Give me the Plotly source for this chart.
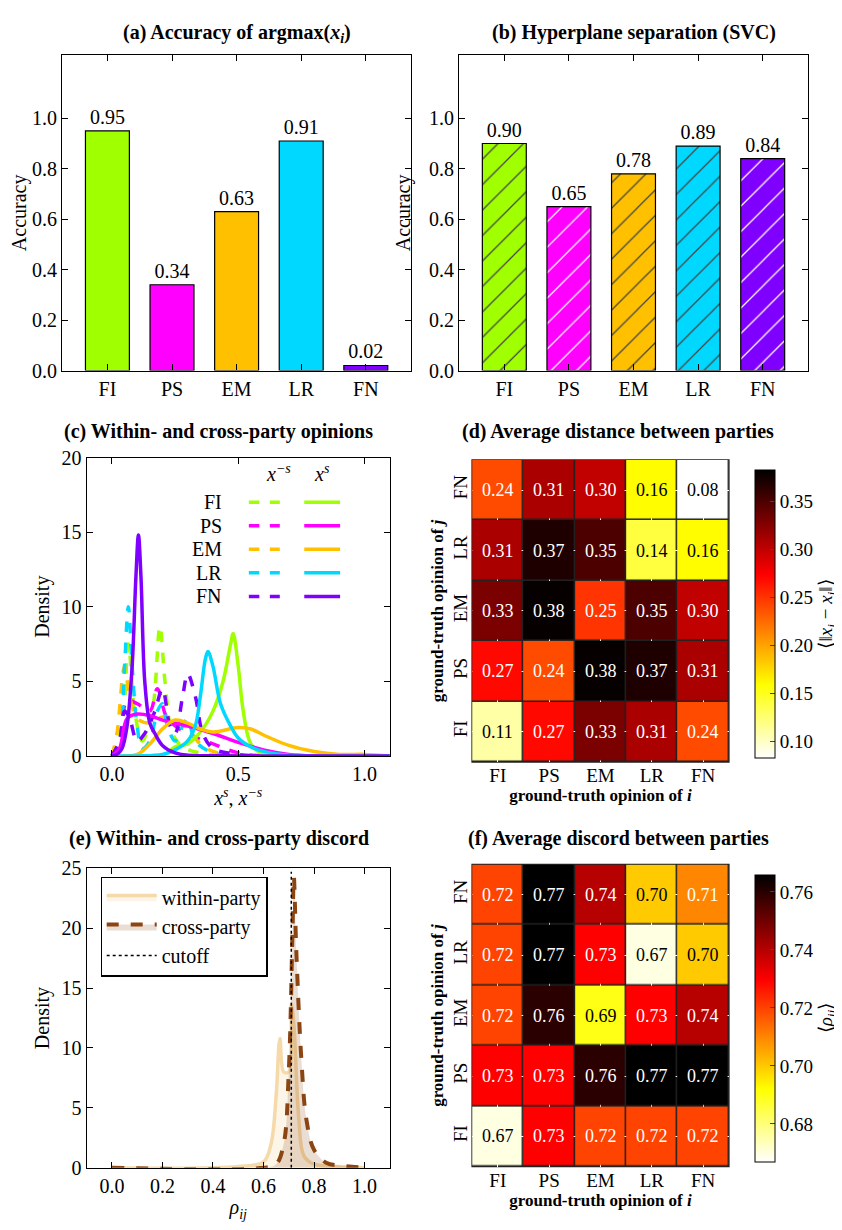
import plotly.graph_objects as go

parties = ['FI', 'PS', 'EM', 'LR', 'FN']
colors = ['#A0FF00', '#FF00FF', '#FFC000', '#00D8FF', '#8000FF']

acc_argmax = [0.95, 0.34, 0.63, 0.91, 0.02]
acc_svc = [0.90, 0.65, 0.78, 0.89, 0.84]

# density curves (x, y); "self" = x^s, "other" = x^-s
self_x = {
    'FI': [0, 0.2, 0.25, 0.3, 0.35, 0.4, 0.44, 0.47, 0.48, 0.5, 0.52, 0.55, 0.6, 0.7, 1.1],
    'PS': [0, 0.03, 0.06, 0.1, 0.15, 0.2, 0.3, 0.4, 0.5, 0.6, 0.7, 0.8, 1.1],
    'EM': [0, 0.1, 0.15, 0.2, 0.25, 0.3, 0.35, 0.4, 0.5, 0.55, 0.6, 0.7, 0.8, 0.9, 1.0, 1.1],
    'LR': [0, 0.1, 0.2, 0.25, 0.3, 0.33, 0.35, 0.37, 0.38, 0.4, 0.43, 0.47, 0.5, 0.55, 0.6, 0.7, 1.1],
    'FN': [0, 0.02, 0.04, 0.06, 0.08, 0.095, 0.105, 0.115, 0.13, 0.15, 0.17, 0.2, 0.25, 0.3, 0.5, 1.1],
}
self_y = {
    'FI': [0, 0, 0.6, 0.8, 1.6, 3, 5, 7.5, 8.2, 6, 3, 0.8, 0.1, 0, 0],
    'PS': [0, 0.5, 2.5, 2.8, 2.7, 2.4, 2, 1.5, 0.9, 0.4, 0.1, 0, 0],
    'EM': [0, 0.1, 0.8, 1.8, 2.4, 2.2, 1.8, 1.6, 1.9, 1.8, 1.4, 0.7, 0.3, 0.1, 0.1, 0],
    'LR': [0, 0, 0.1, 0.4, 1, 2, 4, 6.5, 7, 6, 3.5, 2, 1.2, 0.6, 0.3, 0.05, 0],
    'FN': [0, 0.1, 0.5, 2, 6, 12, 14.8, 12, 5, 2.2, 1.5, 0.7, 0.2, 0.05, 0, 0],
}
other_x = {
    'FI': [0, 0.04, 0.065, 0.09, 0.12, 0.16, 0.19, 0.21, 0.24, 0.28, 0.35, 0.45, 1.1],
    'PS': [0, 0.03, 0.06, 0.1, 0.15, 0.18, 0.22, 0.3, 0.4, 0.5, 0.6, 1.1],
    'EM': [0, 0.02, 0.05, 0.07, 0.1, 0.15, 0.2, 0.25, 0.3, 0.35, 0.4, 0.5, 1.1],
    'LR': [0, 0.03, 0.05, 0.065, 0.08, 0.1, 0.12, 0.15, 0.18, 0.2, 0.22, 0.25, 0.28, 0.3, 0.33, 0.4, 0.5, 1.1],
    'FN': [0, 0.03, 0.05, 0.07, 0.1, 0.13, 0.17, 0.2, 0.23, 0.25, 0.28, 0.3, 0.33, 0.36, 0.4, 0.5, 0.6, 1.1],
}
other_y = {
    'FI': [0, 2, 7.5, 3, 1, 3, 8.7, 5, 1.5, 0.6, 0.2, 0, 0],
    'PS': [0, 1, 3.7, 3.5, 3, 4.5, 2.5, 1.5, 0.8, 0.2, 0, 0],
    'EM': [0, 1.5, 6, 4, 2.5, 2.2, 2.6, 2.5, 1.8, 0.8, 0.3, 0, 0],
    'LR': [0, 1, 6, 10, 6, 2, 0.5, 1, 3, 3.5, 2, 1, 2, 2.5, 1, 0.2, 0, 0],
    'FN': [0, 1, 3, 2.5, 1, 1.5, 3, 4.5, 2, 1.5, 4, 5.5, 4, 1.5, 0.5, 0.1, 0, 0],
}

within_x = [0, 0.5, 0.6, 0.63, 0.65, 0.665, 0.68, 0.7, 0.71, 0.72, 0.74, 0.76, 0.8, 0.9, 1.0]
within_y = [0, 0.1, 0.5, 2, 6, 10.8, 8, 8, 13.7, 12, 4, 1, 0.3, 0.1, 0]
cross_x = [0, 0.6, 0.65, 0.68, 0.7, 0.715, 0.72, 0.73, 0.75, 0.77, 0.8, 0.85, 0.9, 1.0]
cross_y = [0, 0, 0.3, 2, 8, 20, 24.3, 18, 9, 4, 1.5, 0.4, 0.2, 0]
cutoff = 0.71

# rows bottom->top: FI, PS, EM, LR, FN (opinion of j); columns: opinion of i
dist = [
    [0.11, 0.27, 0.33, 0.31, 0.24],
    [0.27, 0.24, 0.38, 0.37, 0.31],
    [0.33, 0.38, 0.25, 0.35, 0.30],
    [0.31, 0.37, 0.35, 0.14, 0.16],
    [0.24, 0.31, 0.30, 0.16, 0.08],
]
discord = [
    [0.67, 0.73, 0.72, 0.72, 0.72],
    [0.73, 0.73, 0.76, 0.77, 0.77],
    [0.72, 0.76, 0.69, 0.73, 0.74],
    [0.72, 0.77, 0.73, 0.67, 0.70],
    [0.72, 0.77, 0.74, 0.70, 0.71],
]

FONT = 'Liberation Serif'
hot_r = [[0, '#ffffff'], [0.254, '#ffff00'], [0.635, '#ff0000'], [1, '#000000']]

fig = go.Figure()

# (a), (b) bars
fig.add_trace(go.Bar(x=parties, y=acc_argmax, marker=dict(color=colors, line=dict(color='black', width=1.2)),
                     text=[f'{v:.2f}' for v in acc_argmax], textposition='outside', width=0.68,
                     textfont=dict(size=20, color='black'), cliponaxis=False, xaxis='x', yaxis='y', showlegend=False))
fig.add_trace(go.Bar(x=parties, y=acc_svc,
                     marker=dict(color=colors, line=dict(color='black', width=1.2),
                                 pattern=dict(shape='/', fgcolor='black', fgopacity=1, size=18, solidity=0.07,
                                              fillmode='overlay')),
                     text=[f'{v:.2f}' for v in acc_svc], textposition='outside', width=0.68,
                     textfont=dict(size=20, color='black'), cliponaxis=False, xaxis='x2', yaxis='y2', showlegend=False))

# (c) densities
for p, c in zip(parties, colors):
    fig.add_trace(go.Scatter(x=other_x[p], y=other_y[p], mode='lines', line=dict(color=c, width=3.5, dash='dash', shape='spline'),
                             xaxis='x3', yaxis='y3', showlegend=False))
for p, c in zip(parties, colors):
    fig.add_trace(go.Scatter(x=self_x[p], y=self_y[p], mode='lines', line=dict(color=c, width=3.5, shape='spline'),
                             xaxis='x3', yaxis='y3', showlegend=False))

# (d) heatmap
fig.add_trace(go.Heatmap(z=dist, x=parties, y=parties, colorscale=hot_r, zmin=0.083, zmax=0.383,
                         xgap=1.5, ygap=1.5, xaxis='x4', yaxis='y4',
                         colorbar=dict(x=0.891, xanchor='left', y=0.635, yanchor='top', len=308, lenmode='pixels',
                                       thickness=20, outlinewidth=1, outlinecolor='black', ticks='inside',
                                       tickvals=[0.10, 0.15, 0.20, 0.25, 0.30, 0.35], ticktext=['0.10', '0.15', '0.20', '0.25', '0.30', '0.35'],
                                       tickfont=dict(size=19, family=FONT),
                                       title=dict(text='⟨‖<i>x<sub>i</sub></i> − <i>x<sub>j</sub></i>‖⟩', side='right',
                                                  font=dict(size=19, family=FONT)))))

# (e) discord densities
fig.add_trace(go.Scatter(x=within_x, y=within_y, mode='lines', name='within-party', fill='tozeroy',
                         fillcolor='rgba(245,222,179,0.3)', line=dict(color='#F5D9A8', width=3.5, shape='spline'),
                         xaxis='x5', yaxis='y5'))
fig.add_trace(go.Scatter(x=cross_x, y=cross_y, mode='lines', name='cross-party', fill='tozeroy',
                         fillcolor='rgba(139,69,19,0.18)', line=dict(color='#8B4513', width=4, dash='dash', shape='spline'),
                         xaxis='x5', yaxis='y5'))
fig.add_trace(go.Scatter(x=[cutoff, cutoff], y=[0, 24.7], mode='lines', name='cutoff',
                         line=dict(color='black', width=1.5, dash='dot'), xaxis='x5', yaxis='y5'))

# (f) heatmap
fig.add_trace(go.Heatmap(z=discord, x=parties, y=parties, colorscale=hot_r, zmin=0.667, zmax=0.766,
                         xgap=1.5, ygap=1.5, xaxis='x6', yaxis='y6',
                         colorbar=dict(x=0.891, xanchor='left', y=0.300, yanchor='top', len=307, lenmode='pixels',
                                       thickness=20, outlinewidth=1, outlinecolor='black', ticks='inside',
                                       tickvals=[0.68, 0.70, 0.72, 0.74, 0.76], ticktext=['0.68', '0.70', '0.72', '0.74', '0.76'],
                                       tickfont=dict(size=19, family=FONT),
                                       title=dict(text='⟨<i>ρ<sub>ij</sub></i>⟩', side='right',
                                                  font=dict(size=19, family=FONT)))))

# dark backdrop so heatmap gaps read as cell borders
for xa in ['x4', 'x6']:
    fig.add_shape(type='rect', xref=xa + ' domain', yref='y' + xa[1:] + ' domain', x0=0, x1=1, y0=0, y1=1,
                  fillcolor='#222222', line=dict(color='#222222', width=1.5), layer='below')

# cell labels
for mat, xa, lo, hi in [(dist, 'x4', 0.083, 0.383), (discord, 'x6', 0.667, 0.766)]:
    ya = 'y' + xa[1:]
    for r, row in enumerate(mat):
        for k, v in enumerate(row):
            t = (v - lo) / (hi - lo)
            fig.add_annotation(x=parties[k], y=parties[r], xref=xa, yref=ya, text=f'{v:.2f}', showarrow=False,
                               font=dict(size=18, family=FONT, color='white' if t > 0.38 else 'black'))

axis_common = dict(showline=True, linecolor='black', linewidth=1.2, mirror='ticks', ticks='inside',
                   ticklen=6, tickcolor='black', tickfont=dict(size=20, family=FONT), showgrid=False, zeroline=False)
hm_axis = dict(ticks='', showline=False, tickfont=dict(size=19, family=FONT))

fig.update_layout(
    width=842, height=1230, margin=dict(l=0, r=0, t=0, b=0),
    plot_bgcolor='white', paper_bgcolor='white', font=dict(family=FONT, color='black'),
    xaxis=dict(domain=[0.053, 0.481], anchor='y', range=[-0.7, 4.7], **axis_common),
    yaxis=dict(domain=[0.709, 0.970], anchor='x', range=[0, 1.25], tickvals=[0, 0.2, 0.4, 0.6, 0.8, 1.0],
               tickformat='.1f', title=dict(text='Accuracy', font=dict(size=20), standoff=10), **axis_common),
    xaxis2=dict(domain=[0.540, 0.968], anchor='y2', range=[-0.7, 4.7], **axis_common),
    yaxis2=dict(domain=[0.709, 0.970], anchor='x2', range=[0, 1.25], tickvals=[0, 0.2, 0.4, 0.6, 0.8, 1.0],
                tickformat='.1f', title=dict(text='Accuracy', font=dict(size=20), standoff=12), **axis_common),
    xaxis3=dict(domain=[0.083, 0.455], anchor='y3', range=[-0.1, 1.1], tickvals=[0, 0.5, 1.0], tickformat='.1f',
                title=dict(text='<i>x<sup>s</sup></i>, <i>x<sup>−s</sup></i>', font=dict(size=20), standoff=4), **axis_common),
    yaxis3=dict(domain=[0.390, 0.637], anchor='x3', range=[0, 20], tickvals=[0, 5, 10, 15, 20],
                title=dict(text='Density', font=dict(size=20), standoff=6), **axis_common),
    xaxis4=dict(domain=[0.556, 0.871], anchor='y4',
                title=dict(text='<b>ground-truth opinion of <i>i</i></b>', font=dict(size=17), standoff=2), **hm_axis),
    yaxis4=dict(domain=[0.385, 0.635], anchor='x4', tickangle=-90,
                title=dict(text='<b>ground-truth opinion of <i>j</i></b>', font=dict(size=17), standoff=2), **hm_axis),
    xaxis5=dict(domain=[0.083, 0.455], anchor='y5', range=[-0.1, 1.1], tickvals=[0, 0.2, 0.4, 0.6, 0.8, 1.0],
                tickformat='.1f', title=dict(text='<i>ρ<sub>ij</sub></i>', font=dict(size=20), standoff=4), **axis_common),
    yaxis5=dict(domain=[0.049, 0.297], anchor='x5', range=[0, 25], tickvals=[0, 5, 10, 15, 20, 25],
                title=dict(text='Density', font=dict(size=20), standoff=6), **axis_common),
    xaxis6=dict(domain=[0.556, 0.871], anchor='y6',
                title=dict(text='<b>ground-truth opinion of <i>i</i></b>', font=dict(size=17), standoff=2), **hm_axis),
    yaxis6=dict(domain=[0.050, 0.300], anchor='x6', tickangle=-90,
                title=dict(text='<b>ground-truth opinion of <i>j</i></b>', font=dict(size=17), standoff=2), **hm_axis),
    legend=dict(x=0.100, y=0.290, xanchor='left', yanchor='top', bgcolor='white', bordercolor='black',
                borderwidth=1.2, font=dict(size=20, family=FONT), itemwidth=50),
)

titles = [
    (0.267, 1.0, '<b>(a) Accuracy of argmax(<i>x<sub>i</sub></i>)</b>'),
    (0.754, 1.0, '<b>(b) Hyperplane separation (SVC)</b>'),
    (0.245, 0.670, '<b>(c) Within- and cross-party opinions</b>'),
    (0.735, 0.670, '<b>(d) Average distance between parties</b>'),
    (0.245, 0.333, '<b>(e) Within- and cross-party discord</b>'),
    (0.735, 0.333, '<b>(f) Average discord between parties</b>'),
]
for x, y, t in titles:
    fig.add_annotation(x=x, y=y, xref='paper', yref='paper', text=t, showarrow=False, xanchor='center',
                       yanchor='top', font=dict(size=20, family=FONT))

# custom legend for (c)
fig.add_annotation(x=0.30, y=0.624, xref='paper', yref='paper', text='<i>x<sup>−s</sup></i>', showarrow=False,
                   font=dict(size=20, family=FONT))
fig.add_annotation(x=0.372, y=0.624, xref='paper', yref='paper', text='<i>x<sup>s</sup></i>', showarrow=False,
                   font=dict(size=20, family=FONT))
for k, (p, c) in enumerate(zip(parties, colors)):
    yy = 0.600 - k * 0.0195
    fig.add_annotation(x=0.252, y=yy, xref='paper', yref='paper', text=p, showarrow=False, xanchor='right',
                       font=dict(size=20, family=FONT))
    fig.add_shape(type='line', xref='paper', yref='paper', x0=0.282, x1=0.320, y0=yy, y1=yy,
                  line=dict(color=c, width=3.5, dash='dash'))
    fig.add_shape(type='line', xref='paper', yref='paper', x0=0.350, x1=0.394, y0=yy, y1=yy,
                  line=dict(color=c, width=3.5))

fig.write_html('out.html')
